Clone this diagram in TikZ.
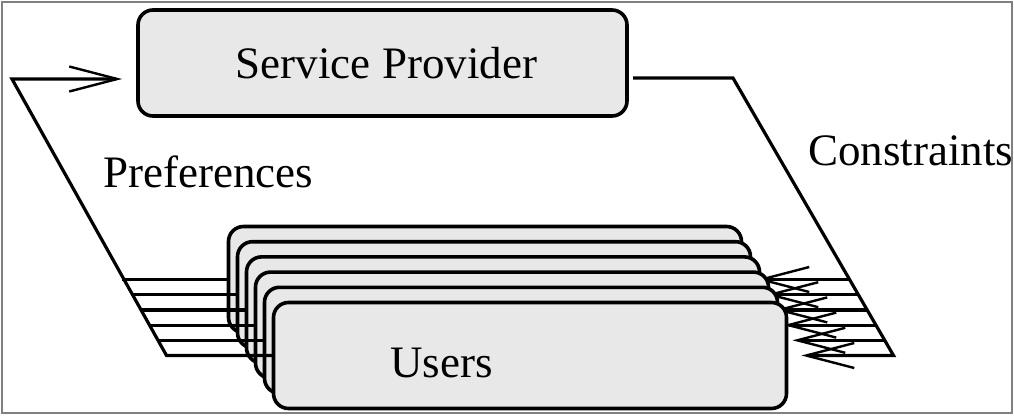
\documentclass[tikz,border=0pt]{standalone}
\usepackage{fontspec}
\setmainfont{Liberation Serif}
\usetikzlibrary{arrows.meta,calc}
\definecolor{boxfill}{RGB}{232,232,232}
\begin{document}
\begin{tikzpicture}[x=1pt,y=-1pt,
  box/.style={draw, line width=3.6pt, fill=boxfill, rounded corners=15pt,
    outer sep=0pt, inner sep=0pt},
  spbox/.style={box, minimum width=489pt, minimum height=106pt},
  userbox/.style={box, minimum width=513pt, minimum height=106pt},
  conn/.style={line width=3.2pt, line join=miter},
  barb/.style={-{Straight Barb[length=48pt,width=25pt,line width=2.4pt]}},
  bigtext/.style={font=\fontsize{45}{54}\selectfont},
  lbl/.style={bigtext, inner sep=0pt, anchor=base west}]

\useasboundingbox (0,0) rectangle (1014,415);
\draw[gray, line width=1.2pt] (2,2) rectangle (1012,413);

% provider box and the two bends of the outer loop
\node[spbox, bigtext] (sp) at (382.5,63) {\hspace*{8pt}Service Provider};
\coordinate (lc) at (12,79);
\coordinate (rc) at (733,78);

% stacked user boxes, each with its own links, back to front
\foreach \i in {1,...,6} {
  \node[userbox] (u\i) at ({485+9*(\i-1)}, {279.5+15.2*(\i-1)}) {};
  \ifnum\i<6
    \draw[conn] (u\i.west) -- ++(-107,0);
    \draw[conn, barb, shorten >=15pt] ($(u\i.east)+(107,0)$) -- (u\i.east);
  \fi
}

\coordinate (lb) at ($(u6.west)+(-107,0)$);
\coordinate (rb) at ($(u6.east)+(107,0)$);

% preferences: users -> provider
\draw[conn, barb, shorten >=16pt] (u6.west) -- (lb) -- (lc) -- (sp.west |- lc);
% constraints: provider -> users
\draw[conn, barb, shorten >=15pt] ($(sp.east |- rc)+(6,0)$) -- (rc) -- (rb) -- (u6.east);

\node[lbl] (pref) at (103,187) {Preferences};
\node[lbl] (cons) at (808,165) {Constraints};
\node[lbl] (ulab) at (390,377) {Users};
\end{tikzpicture}
\end{document}
